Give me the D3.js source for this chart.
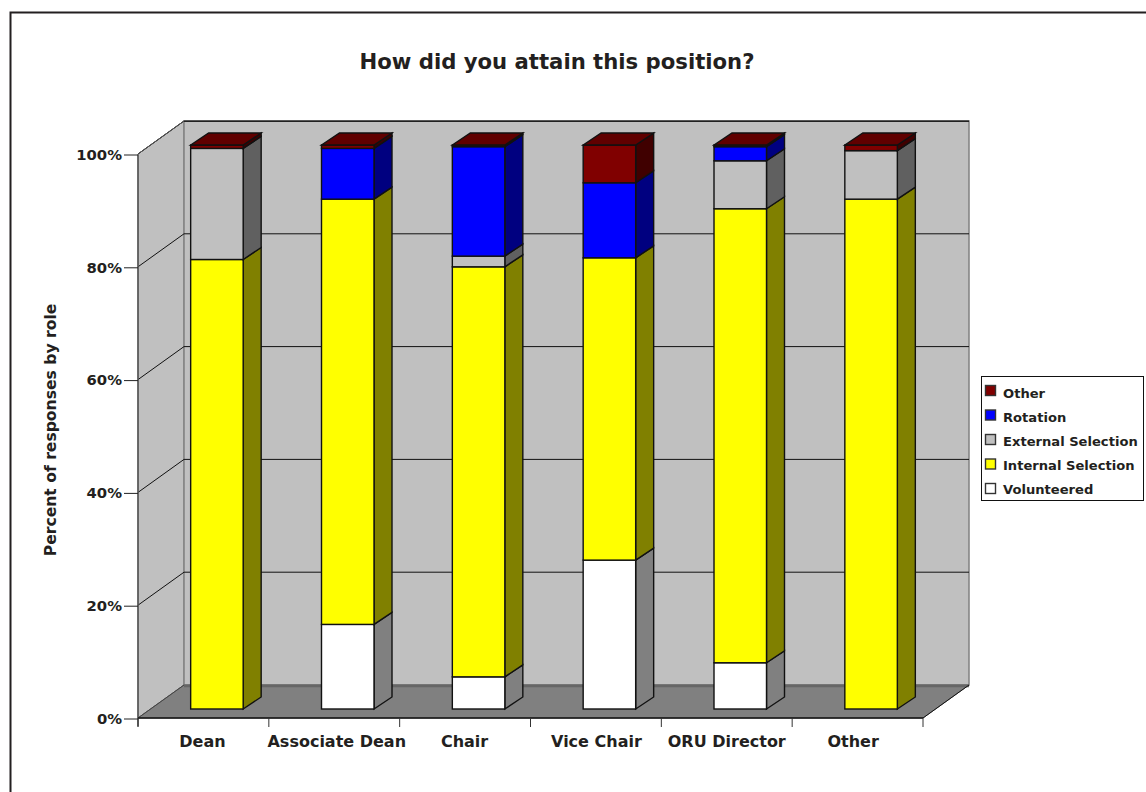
<!DOCTYPE html>
<html><head><meta charset="utf-8"><script src="https://cdn.jsdelivr.net/npm/d3@7"></script>
<style>html,body{margin:0;background:#fff}svg{display:block}text{font-family:"DejaVu Sans",sans-serif;font-weight:bold;fill:#231f20}</style></head>
<body><svg id="c" width="1146" height="792"></svg>
<script>
const categories=["Dean","Associate Dean","Chair","Vice Chair","ORU Director","Other"];
const seriesNames=["Volunteered","Internal Selection","External Selection","Rotation","Other"];
const volunteered=[0,15,5.7,26.4,8.2,0];
const internalSelection=[79.7,75.4,72.7,53.6,80.5,90.4];
const externalSelection=[19.7,0,1.9,0,8.5,8.6];
const rotation=[0,9,19.4,13.3,2.5,0];
const other=[0.6,0.6,0.3,6.7,0.3,1];
const colors=["#ffffff","#ffff00","#c0c0c0","#0000ff","#800000"];
const sideColors=["#808080","#808000","#606060","#000080","#400000"];
const topColor="#600000";
const yTicks=[0,20,40,60,80,100];
const title="How did you attain this position?";
const yTitle="Percent of responses by role";
const values=[volunteered,internalSelection,externalSelection,rotation,other];

const svg=d3.select("#c");
svg.append("path").attr("d","M10.5,792V12.5H1146").attr("fill","none").attr("stroke","#231f20").attr("stroke-width",2);
const x=d3.scaleBand().domain(categories).range([138,923]);
const y=d3.scaleLinear().domain([0,100]).range([718,154]);
const D=[46,-33];
const wall="#c0c0c0",floor="#808080";
const poly=(pts,fill,stroke,sw)=>svg.append("polygon").attr("points",pts.map(p=>p.join(",")).join(" ")).attr("fill",fill).attr("stroke",stroke||"none").attr("stroke-width",sw||1);
const x0=x.range()[0],x1=x.range()[1],y0=y(0),yT=y(100);
poly([[x0,y0],[x0+D[0],y0+D[1]],[x0+D[0],yT+D[1]],[x0,yT]],wall,"#808080");
poly([[x0+D[0],y0+D[1]],[x1+D[0],y0+D[1]],[x1+D[0],yT+D[1]],[x0+D[0],yT+D[1]]],wall,"#808080",1.5);
poly([[x0,y0],[x1,y0],[x1+D[0],y0+D[1]],[x0+D[0],y0+D[1]]],floor,"#666");
svg.append("line").attr("x1",x0+D[0]).attr("x2",x1+D[0]).attr("y1",y0+D[1]+1).attr("y2",y0+D[1]+1).attr("stroke","#666").attr("stroke-width",2.5);
yTicks.forEach(t=>{
  if(t===0)return;
  svg.append("polyline").attr("fill","none").attr("stroke","#111").attr("points",`${x0},${y(t)} ${x0+D[0]},${y(t)+D[1]} ${x1+D[0]},${y(t)+D[1]}`);
});
svg.append("line").attr("x1",x0+D[0]).attr("x2",x1+D[0]).attr("y1",yT+D[1]+0.5).attr("y2",yT+D[1]+0.5).attr("stroke","#222");
svg.append("line").attr("x1",x0).attr("x2",x0+D[0]).attr("y1",yT).attr("y2",yT+D[1]).attr("stroke","#555");
svg.append("line").attr("x1",x0).attr("x2",x0+D[0]).attr("y1",y0).attr("y2",y0+D[1]).attr("stroke","#444");
svg.append("line").attr("x1",x1).attr("x2",x1+D[0]).attr("y1",y0).attr("y2",y0+D[1]).attr("stroke","#111");
const bw=52.5,off=[13.5,-9],dep=[18,-12];
categories.forEach((c,i)=>{
  const bx=x(c)+x.bandwidth()/2-bw/2+off[0]; let cum=0;
  values.forEach((v,s)=>{
    const val=v[i]; if(!val)return;
    const yb=y(cum)+off[1], yt=y(cum+val)+off[1]; cum+=val;
    const r=bx+bw;
    poly([[r,yb],[r+dep[0],yb+dep[1]],[r+dep[0],yt+dep[1]],[r,yt]],sideColors[s],"#111",1.4);
    svg.append("rect").attr("x",bx).attr("y",yt).attr("width",bw).attr("height",yb-yt).attr("fill",colors[s]).attr("stroke","#111").attr("stroke-width",1.4);
  });
  const yt=y(cum)+off[1];
  poly([[bx,yt],[bx+dep[0],yt+dep[1]],[bx+bw+dep[0],yt+dep[1]],[bx+bw,yt]],topColor,"#111",1.4);
});
svg.append("g").attr("transform",`translate(${x0},0.5)`).call(d3.axisLeft(y).tickValues(yTicks).tickFormat(d=>d+"%").tickSize(14).tickPadding(2))
 .call(g=>{g.selectAll("text").attr("font-size",14.8);g.selectAll("line").attr("stroke","#222");g.select(".domain").attr("stroke","#555").attr("stroke-width",1.6).attr("d",`M0,${yT}V${y0+8}`)});
const labelNudge=[-1,2.5,-0.5,0.5,0,-4.5];
svg.append("g").attr("transform",`translate(0,${y0})`).call(d3.axisBottom(x).tickSize(0).tickPadding(18))
 .call(g=>{g.selectAll("text").attr("font-size",16).attr("dx",(d,i)=>labelNudge[i]);g.select(".domain").attr("stroke","#111").attr("stroke-width",1.5).attr("d",`M${x0},0H${x1}`)});
categories.forEach(c=>svg.append("line").attr("x1",x(c)).attr("x2",x(c)).attr("y1",y0).attr("y2",y0+9).attr("stroke","#333"));
svg.append("line").attr("x1",x1).attr("x2",x1).attr("y1",y0).attr("y2",y0+9).attr("stroke","#333");
svg.append("text").attr("x",557).attr("y",69).attr("text-anchor","middle").attr("font-size",21.2).text(title);
svg.append("text").attr("transform","translate(56,430) rotate(-90)").attr("text-anchor","middle").attr("font-size",15.6).text(yTitle);
svg.append("rect").attr("x",981.5).attr("y",376.5).attr("width",162).attr("height",124).attr("fill","#fff").attr("stroke","#111");
seriesNames.slice().reverse().forEach((n,i)=>{
  const s=seriesNames.length-1-i;
  svg.append("rect").attr("x",985.5).attr("y",385.5+i*24.5).attr("width",10).attr("height",10).attr("fill",colors[s]).attr("stroke","#333").attr("stroke-width",1.4);
  svg.append("text").attr("x",1003).attr("y",398+i*23.9).attr("font-size",13.1).text(n);
});
</script></body></html>
